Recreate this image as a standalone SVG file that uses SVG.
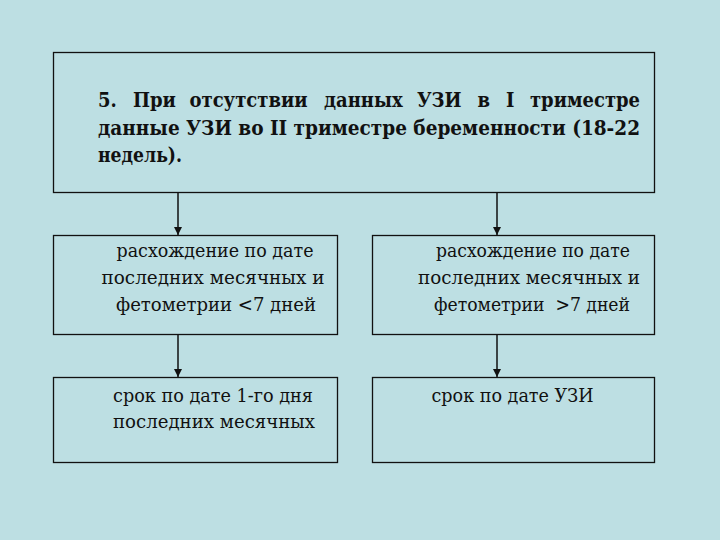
<svg xmlns="http://www.w3.org/2000/svg" width="720" height="540" viewBox="0 0 720 540">
<style>
.box{fill:#bddfe3;stroke:#111;stroke-width:1.3}
.hd{font-family:"DejaVu Serif Condensed","DejaVu Serif",serif;font-stretch:condensed;font-size:20px;font-weight:bold;fill:#111}
.tx{font-family:"DejaVu Serif Condensed","DejaVu Serif",serif;font-stretch:condensed;font-size:19px;fill:#111;text-anchor:middle}
.con{stroke:#111;stroke-width:1.5;fill:none;marker-end:url(#ah)}
</style>
<defs>
<marker id="ah" viewBox="0 0 8 10" refX="8" refY="5" markerWidth="8" markerHeight="10" markerUnits="userSpaceOnUse" orient="auto">
<path d="M0,1 L8,5 L0,9 Z" fill="#111"/>
</marker>
</defs>
<rect x="0" y="0" width="720" height="540" fill="#bddfe3"/>
<g id="top">
<rect class="box" x="53.5" y="52.5" width="601" height="140"/>
<text class="hd" y="107"><tspan x="98">5.</tspan> <tspan x="133">При</tspan> <tspan x="189.5">отсутствии</tspan> <tspan x="324">данных</tspan> <tspan x="417">УЗИ</tspan> <tspan x="477.5">в</tspan> <tspan x="506">I</tspan> <tspan x="530" textLength="110" lengthAdjust="spacingAndGlyphs">триместре</tspan></text>
<text class="hd" x="98" y="134.5" textLength="542" lengthAdjust="spacingAndGlyphs">данные УЗИ во II триместре беременности (18-22</text>
<text class="hd" x="98" y="162" textLength="84" lengthAdjust="spacingAndGlyphs">недель).</text>
</g>
<g id="mid-left">
<rect class="box" x="53.5" y="235.5" width="284" height="99"/>
<text class="tx" x="215" y="257" textLength="197" lengthAdjust="spacingAndGlyphs">расхождение по дате</text>
<text class="tx" x="213" y="284" textLength="223" lengthAdjust="spacingAndGlyphs">последних месячных и</text>
<text class="tx" x="216" y="311" textLength="200" lengthAdjust="spacingAndGlyphs">фетометрии &lt;7 дней</text>
</g>
<g id="mid-right">
<rect class="box" x="372.5" y="235.5" width="282" height="99"/>
<text class="tx" x="533" y="257" textLength="194" lengthAdjust="spacingAndGlyphs">расхождение по дате</text>
<text class="tx" x="529" y="284" textLength="222" lengthAdjust="spacingAndGlyphs">последних месячных и</text>
<text class="tx" x="532" y="311" textLength="196" lengthAdjust="spacingAndGlyphs" xml:space="preserve">фетометрии  &gt;7 дней</text>
</g>
<g id="bot-left">
<rect class="box" x="53.5" y="377.5" width="284" height="85"/>
<text class="tx" x="213" y="402" textLength="200" lengthAdjust="spacingAndGlyphs">срок по дате 1-го дня</text>
<text class="tx" x="214" y="428" textLength="202" lengthAdjust="spacingAndGlyphs">последних месячных</text>
</g>
<g id="bot-right">
<rect class="box" x="372.5" y="377.5" width="282" height="85"/>
<text class="tx" x="512.5" y="402" textLength="162" lengthAdjust="spacingAndGlyphs">срок по дате УЗИ</text>
</g>
<g id="connectors">
<line class="con" x1="178" y1="193" x2="178" y2="235"/>
<line class="con" x1="497" y1="193" x2="497" y2="235"/>
<line class="con" x1="178" y1="335" x2="178" y2="377"/>
<line class="con" x1="497" y1="335" x2="497" y2="377"/>
</g>
</svg>
